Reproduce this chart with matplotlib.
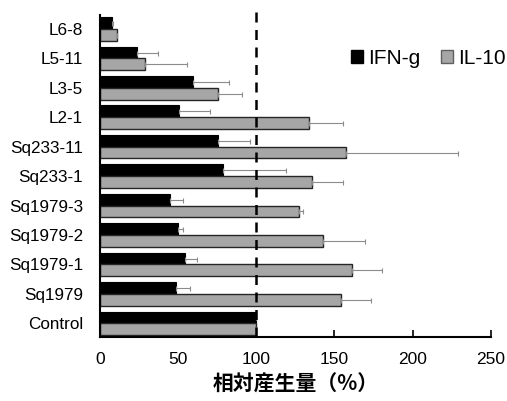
import numpy as np
import matplotlib
matplotlib.use("Agg")
import matplotlib.pyplot as plt
from matplotlib.patches import Patch

plt.rcParams['font.family'] = ['Liberation Sans', 'DejaVu Sans']

# data, bottom to top
categories = ['Control', 'Sq1979', 'Sq1979-1', 'Sq1979-2', 'Sq1979-3',
              'Sq233-1', 'Sq233-11', 'L2-1', 'L3-5', 'L5-11', 'L6-8']
ifng = [100, 48.6, 54.4, 50.1, 44.8, 78.9, 75.7, 50.8, 59.7, 23.5, 7.7]
ifng_err = [0, 9.0, 7.5, 2.8, 8.1, 39.9, 20.3, 19.6, 22.8, 13.8, 0.8]
il10 = [100, 154.2, 161.0, 142.9, 127.5, 135.8, 157.4, 133.7, 75.7, 29.0, 10.7]
il10_err = [0, 19.0, 19.4, 26.6, 2.2, 19.9, 71.9, 21.6, 14.9, 26.9, 0.5]

fig = plt.figure(figsize=(5.07, 4.01), dpi=100)
ax = fig.add_axes([0.197, 0.160, 0.771, 0.803])

y = np.arange(len(categories))
h = 0.4
errkw = dict(ecolor='#8c8c8c', elinewidth=0.8, capsize=1.8, capthick=0.8)
zeros = [0] * len(categories)
ax.barh(y + h / 2, ifng, height=h, color='black', edgecolor='black', linewidth=0.8,
        xerr=[zeros, ifng_err], error_kw=errkw, zorder=2)
ax.barh(y - h / 2, il10, height=h, color='#a6a6a6', edgecolor='#262626', linewidth=1.0,
        xerr=[zeros, il10_err], error_kw=errkw, zorder=2)

ax.axvline(100, color='black', linestyle=(0, (4, 3)), linewidth=1.8,
           ymax=1.025, clip_on=False, zorder=3)

ax.set_xlim(0, 250)
ax.set_ylim(-0.46, 10.48)
ax.set_xticks([0, 50, 100, 150, 200, 250])
ax.set_yticks(y)
ax.set_yticklabels(categories)
ax.tick_params(axis='x', direction='in', length=5, width=1.2, labelsize=12.5, pad=11)
ax.tick_params(axis='y', length=0, labelsize=12.3, pad=12)
for s in ['top', 'right']:
    ax.spines[s].set_visible(False)
for s in ['left', 'bottom']:
    ax.spines[s].set_linewidth(1.5)

ax.set_xlabel('相対産生量（%）', family=['Noto Sans CJK JP', 'DejaVu Sans'],
              fontsize=15, fontweight='bold', labelpad=5)

handles = [Patch(facecolor='black', edgecolor='black'),
           Patch(facecolor='#a6a6a6', edgecolor='#606060')]
fig.legend(handles, ['IFN-g', 'IL-10'], loc='center', bbox_to_anchor=(0.845, 0.855),
           ncol=2, frameon=False, fontsize=15, handlelength=0.55, handleheight=0.55,
           handletextpad=0.25, columnspacing=1.0)

fig.savefig('out.png', dpi=100)
